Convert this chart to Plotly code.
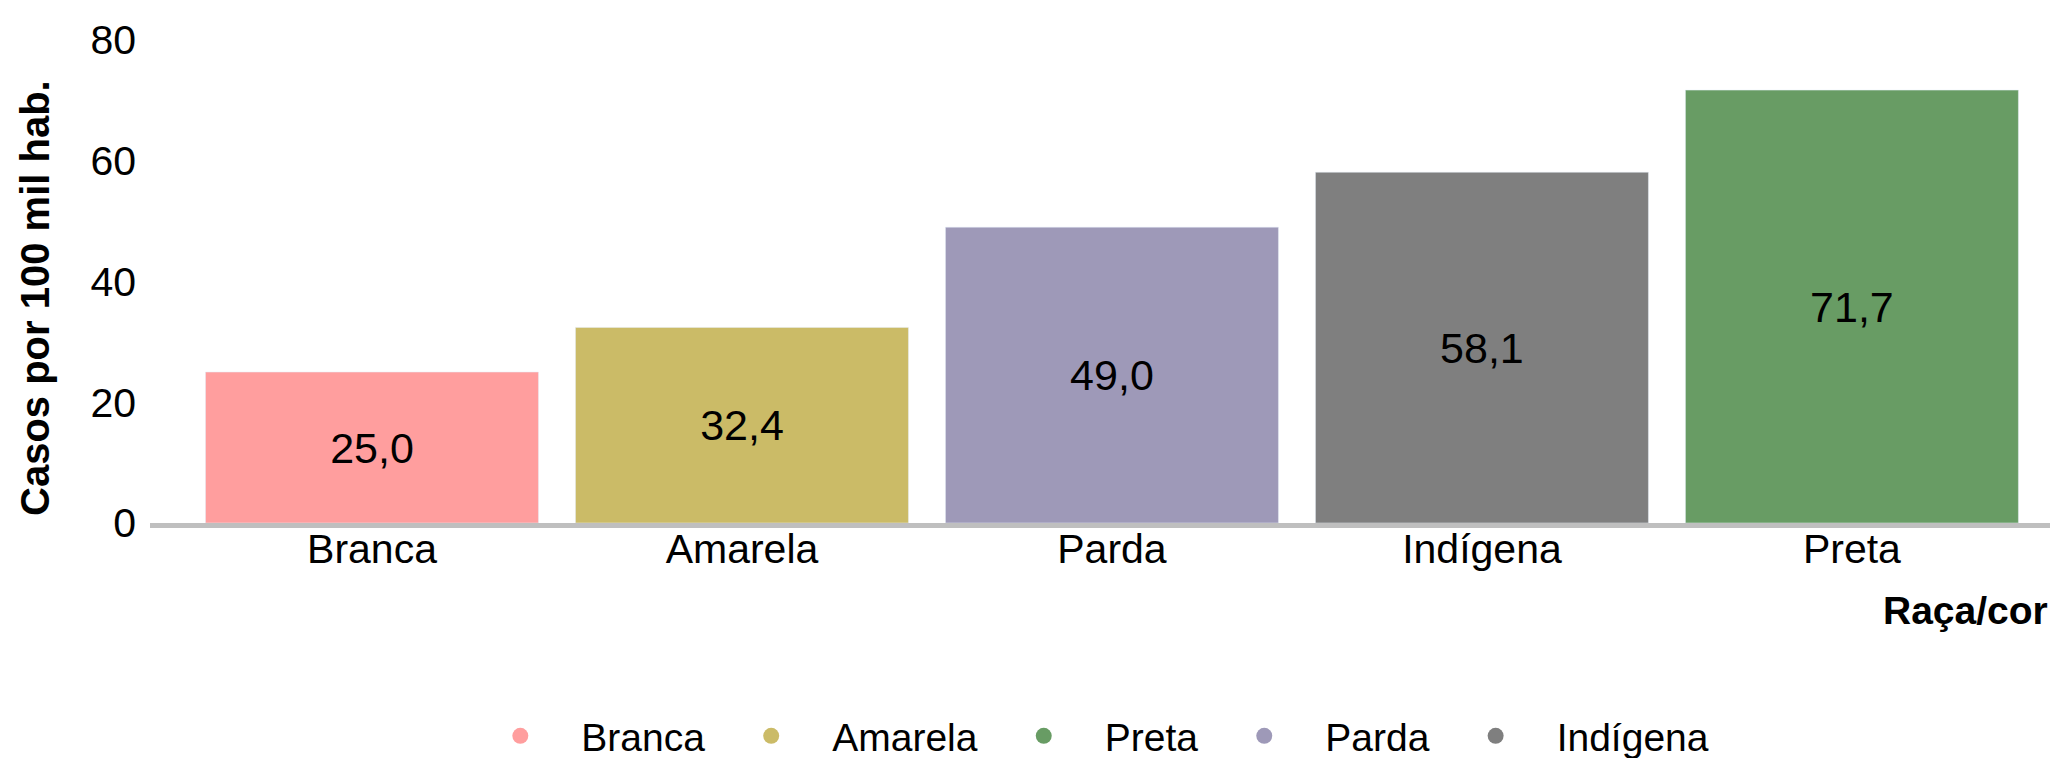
import plotly.graph_objects as go

categories = ["Branca", "Amarela", "Parda", "Indígena", "Preta"]
values = [25.0, 32.4, 49.0, 58.1, 71.7]
bar_colors = ["#FF9E9E", "#CBBB67", "#9E99B8", "#7F7F7F", "#689C64"]

legend_order = ["Branca", "Amarela", "Preta", "Parda", "Indígena"]
color_map = dict(zip(categories, bar_colors))

y_ticks = [0, 20, 40, 60, 80]

FONT = "Liberation Sans, Arial, sans-serif"

# page body adds an 8px offset; figure is sized to fit the 2058x758 window
W, H = 2050, 750
PL, PB = 142, 235
PW, PH = 1908, 483

fig = go.Figure()
fig.add_trace(go.Bar(
    x=categories, y=values, marker_color=bar_colors, width=0.9,
    texttemplate="%{y:.1f}", textposition="inside", insidetextanchor="middle",
    textfont=dict(family=FONT, size=43, color="black"), textangle=0,
    showlegend=False,
))
for name in legend_order:
    fig.add_trace(go.Scatter(
        x=[None], y=[None], mode="markers", name=name,
        marker=dict(symbol="circle", size=26, color=color_map[name]),
    ))

fig.update_layout(
    width=W, height=H,
    margin=dict(l=PL, r=W - PL - PW, t=H - PB - PH, b=PB, autoexpand=False),
    plot_bgcolor="white", paper_bgcolor="white",
    separators=", ",
    font=dict(family=FONT, size=41, color="black"),
    showlegend=True,
    legend=dict(orientation="h", x=0.491, xanchor="center", y=-0.441, yanchor="middle",
                font=dict(family=FONT, size=39, color="black"), itemwidth=112,
                traceorder="normal"),
    xaxis=dict(type="category", range=[-0.6, 4.557], showline=True, linecolor="#BFBFBF",
               linewidth=4.5, showgrid=False, ticks="", ticklabelstandoff=-14,
               tickfont=dict(family=FONT, size=41, color="black")),
    yaxis=dict(range=[0, 80], tickvals=y_ticks, showgrid=False, zeroline=False,
               showline=False, ticks="", ticklabelstandoff=13,
               tickfont=dict(family=FONT, size=41, color="black")),
    annotations=[
        dict(text="<b>Casos por 100 mil hab.</b>", textangle=-90, xref="paper", yref="paper",
             x=(35 - 150) / PW, y=(523 - 298) / PH, xanchor="center", yanchor="middle",
             showarrow=False, font=dict(family=FONT, size=40, color="black")),
        dict(text="<b>Raça/cor</b>", xref="paper", yref="paper",
             x=(2050 - 150) / PW, y=(523 - 610) / PH, xanchor="right", yanchor="middle",
             showarrow=False, font=dict(family=FONT, size=39, color="black")),
    ],
)

fig.write_html("out.html")
